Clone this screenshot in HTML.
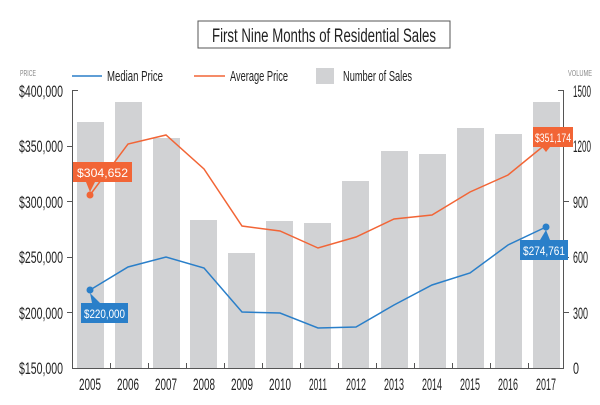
<!DOCTYPE html>
<html><head><style>
body{margin:0;background:#fff}
svg text{font-family:"Liberation Sans Narrow","Liberation Sans",sans-serif}
</style></head><body>
<svg width="600" height="400" viewBox="0 0 600 400" xmlns="http://www.w3.org/2000/svg">
<rect x="198" y="21" width="252" height="27" fill="#fff" stroke="#555" stroke-width="1"/>
<text x="212" y="42" font-size="19" fill="#222" textLength="224" lengthAdjust="spacingAndGlyphs">First Nine Months of Residential Sales</text>
<text x="20" y="76" font-size="8" fill="#888" textLength="16" lengthAdjust="spacingAndGlyphs">PRICE</text>
<text x="568" y="76" font-size="8" fill="#888" textLength="24" lengthAdjust="spacingAndGlyphs">VOLUME</text>
<line x1="72" y1="76" x2="102" y2="76" stroke="#2a7fc9" stroke-width="1.5"/>
<text x="107" y="81" font-size="15" fill="#222" textLength="56" lengthAdjust="spacingAndGlyphs">Median Price</text>
<line x1="194" y1="76" x2="225" y2="76" stroke="#f26536" stroke-width="1.5"/>
<text x="230" y="81" font-size="15" fill="#222" textLength="58" lengthAdjust="spacingAndGlyphs">Average Price</text>
<rect x="316" y="68" width="18" height="16" fill="#d1d2d4"/>
<text x="343" y="81" font-size="15" fill="#222" textLength="69" lengthAdjust="spacingAndGlyphs">Number of Sales</text>
<g fill="#d1d2d4">
<rect x="77" y="122" width="27" height="246"/>
<rect x="115" y="102" width="27" height="266"/>
<rect x="153" y="138" width="27" height="230"/>
<rect x="190" y="220" width="27" height="148"/>
<rect x="228" y="253" width="27" height="115"/>
<rect x="266" y="221" width="27" height="147"/>
<rect x="304" y="223" width="27" height="145"/>
<rect x="342" y="181" width="27" height="187"/>
<rect x="381" y="151" width="27" height="217"/>
<rect x="419" y="154" width="27" height="214"/>
<rect x="457" y="128" width="27" height="240"/>
<rect x="495" y="134" width="27" height="234"/>
<rect x="533" y="102" width="27" height="266"/>
</g>
<g stroke="#555" stroke-width="1" fill="none">
<path d="M78 90.5H72.5V368.5H563.5V90.5H558"/>
<path d="M72 146.5H67M72 201.5H67M72 257.5H67M72 312.5H67"/>
<path d="M564 146.5H569M564 201.5H569M564 257.5H569M564 312.5H569"/>
<path d="M110.5 368V363M148.5 368V363M186.5 368V363M224.5 368V363M262.5 368V363M300.5 368V363M338.5 368V363M376.5 368V363M414.5 368V363M452.5 368V363M490.5 368V363M528.5 368V363"/>
</g>
<g font-size="17" fill="#222">
<text x="19" y="97" textLength="44" lengthAdjust="spacingAndGlyphs">$400,000</text>
<text x="19" y="152" textLength="44" lengthAdjust="spacingAndGlyphs">$350,000</text>
<text x="19" y="208" textLength="44" lengthAdjust="spacingAndGlyphs">$300,000</text>
<text x="19" y="263" textLength="44" lengthAdjust="spacingAndGlyphs">$250,000</text>
<text x="19" y="319" textLength="44" lengthAdjust="spacingAndGlyphs">$200,000</text>
<text x="19" y="374" textLength="44" lengthAdjust="spacingAndGlyphs">$150,000</text>
</g>
<g font-size="17" fill="#222">
<text x="573" y="97" textLength="18" lengthAdjust="spacingAndGlyphs">1500</text>
<text x="573" y="152" textLength="18" lengthAdjust="spacingAndGlyphs">1200</text>
<text x="573" y="208" textLength="15" lengthAdjust="spacingAndGlyphs">900</text>
<text x="573" y="263" textLength="15" lengthAdjust="spacingAndGlyphs">600</text>
<text x="573" y="319" textLength="15" lengthAdjust="spacingAndGlyphs">300</text>
<text x="573" y="374" textLength="6" lengthAdjust="spacingAndGlyphs">0</text>
</g>
<g font-size="17" fill="#222">
<text x="79" y="390" textLength="22" lengthAdjust="spacingAndGlyphs">2005</text><text x="117" y="390" textLength="22" lengthAdjust="spacingAndGlyphs">2006</text><text x="155" y="390" textLength="22" lengthAdjust="spacingAndGlyphs">2007</text><text x="193" y="390" textLength="22" lengthAdjust="spacingAndGlyphs">2008</text><text x="231" y="390" textLength="22" lengthAdjust="spacingAndGlyphs">2009</text><text x="269" y="390" textLength="22" lengthAdjust="spacingAndGlyphs">2010</text><text x="309" y="390" textLength="18" lengthAdjust="spacingAndGlyphs">2011</text><text x="346" y="390" textLength="20" lengthAdjust="spacingAndGlyphs">2012</text><text x="384" y="390" textLength="20" lengthAdjust="spacingAndGlyphs">2013</text><text x="422" y="390" textLength="20" lengthAdjust="spacingAndGlyphs">2014</text><text x="460" y="390" textLength="20" lengthAdjust="spacingAndGlyphs">2015</text><text x="498" y="390" textLength="20" lengthAdjust="spacingAndGlyphs">2016</text><text x="536" y="390" textLength="20" lengthAdjust="spacingAndGlyphs">2017</text>
</g>
<polyline fill="none" stroke="#2a7fc9" stroke-width="1.5" points="90,290 128,267 166,257 204,268 242,312 280,313 318,328 356,327 394,305 432,285 470,273 508,245 546,227"/>
<polyline fill="none" stroke="#f26536" stroke-width="1.5" points="90,195 128,144 166,135 204,169 242,226 280,231 318,248 356,237 394,219 432,215 470,192 508,175 546,144"/>
<circle cx="90" cy="195" r="3.5" fill="#f26536"/>
<circle cx="90" cy="290" r="3.5" fill="#2a7fc9"/>
<circle cx="546" cy="227" r="3.5" fill="#2a7fc9"/>
<circle cx="546" cy="144" r="3.5" fill="#f26536"/>
<rect x="73" y="162" width="59" height="20" fill="#f26536"/>
<path d="M86 182L90 192L95 182Z" fill="#f26536"/>
<text x="77" y="177" font-size="12" fill="#fff" textLength="51" lengthAdjust="spacingAndGlyphs">$304,652</text>
<rect x="81" y="303" width="47" height="20" fill="#2a7fc9"/>
<path d="M90 293L92 303L100 303Z" fill="#2a7fc9"/>
<text x="84" y="318" font-size="12" fill="#fff" textLength="41" lengthAdjust="spacingAndGlyphs">$220,000</text>
<rect x="520" y="240" width="48" height="20" fill="#2a7fc9"/>
<path d="M540 240L546 230L550 240Z" fill="#2a7fc9"/>
<text x="523" y="255" font-size="12" fill="#fff" textLength="42" lengthAdjust="spacingAndGlyphs">$274,761</text>
<rect x="533" y="127" width="40" height="20" fill="#f26536"/>
<path d="M542 147L546 152L550 147Z" fill="#f26536"/>
<text x="535" y="142" font-size="12" fill="#fff" textLength="36" lengthAdjust="spacingAndGlyphs">$351,174</text>
</svg>
</body></html>
